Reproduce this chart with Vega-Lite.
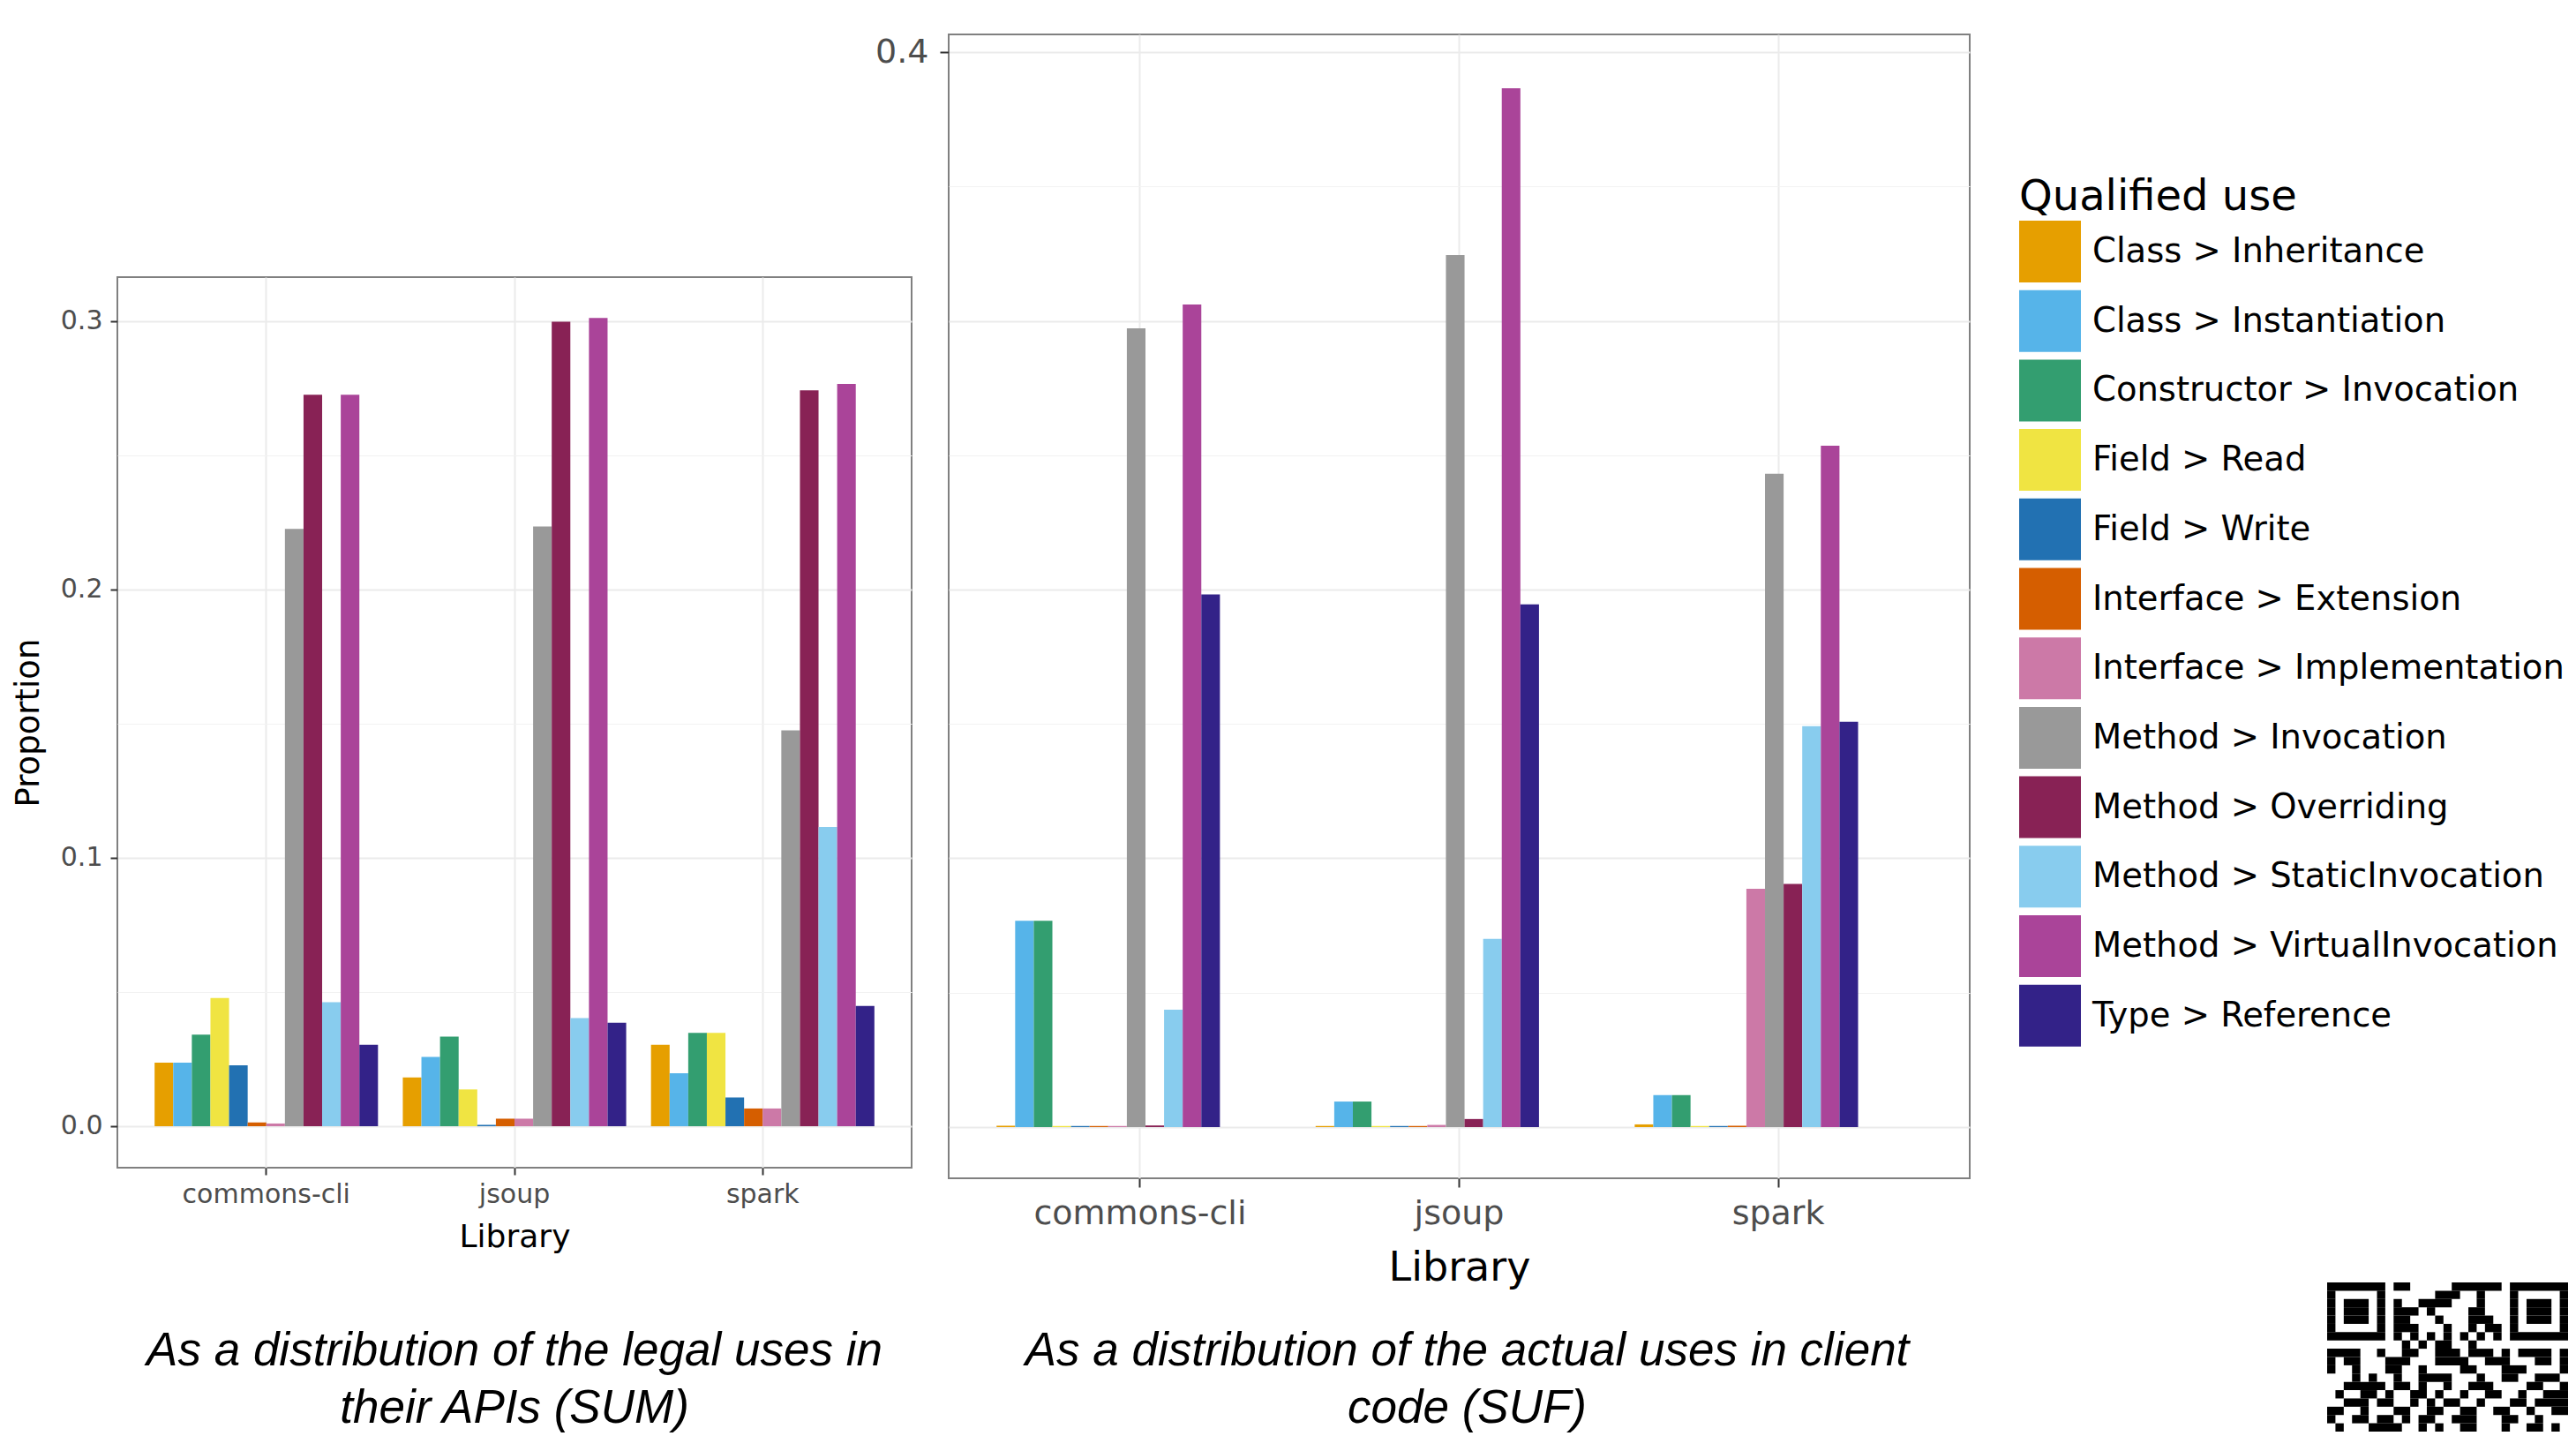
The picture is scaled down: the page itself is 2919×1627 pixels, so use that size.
{
  "$schema": "https://vega.github.io/schema/vega-lite/v6.json",
  "padding": {"left": 12, "top": 38, "right": 0, "bottom": 0},
  "autosize": {"type": "pad"},
  "background": "white",
  "config": {
    "view": {"stroke": "#808080", "strokeWidth": 2},
    "font": "DejaVu Sans",
    "axis": {"domain": false, "labelFont": "DejaVu Sans", "titleFont": "DejaVu Sans", "titleFontWeight": "normal", "titleColor": "#000000", "labelColor": "#4D4D4D", "tickColor": "#333333", "tickWidth": 2, "labelOverlap": false, "labelLimit": 1000},
    "legend": {
      "titleFont": "DejaVu Sans", "titleFontSize": 48, "titleFontWeight": "normal", "titleColor": "#000000", "titlePadding": 2, "titleLimit": 1000,
      "labelFont": "DejaVu Sans", "labelFontSize": 38.5, "labelColor": "#000000", "labelLimit": 1000, "labelOffset": 13,
      "symbolType": "square", "symbolSize": 4900, "symbolStrokeWidth": 0, "symbolOpacity": 1,
      "rowPadding": 8.7, "padding": 0
    }
  },
  "datasets": {
    "uses": [
      {"panel": "SUM", "lib": "commons-cli", "use": "Class > Inheritance", "p": 0.0237},
      {"panel": "SUM", "lib": "commons-cli", "use": "Class > Instantiation", "p": 0.0237},
      {"panel": "SUM", "lib": "commons-cli", "use": "Constructor > Invocation", "p": 0.0341},
      {"panel": "SUM", "lib": "commons-cli", "use": "Field > Read", "p": 0.0478},
      {"panel": "SUM", "lib": "commons-cli", "use": "Field > Write", "p": 0.0227},
      {"panel": "SUM", "lib": "commons-cli", "use": "Interface > Extension", "p": 0.0014},
      {"panel": "SUM", "lib": "commons-cli", "use": "Interface > Implementation", "p": 0.0010},
      {"panel": "SUM", "lib": "commons-cli", "use": "Method > Invocation", "p": 0.2226},
      {"panel": "SUM", "lib": "commons-cli", "use": "Method > Overriding", "p": 0.2726},
      {"panel": "SUM", "lib": "commons-cli", "use": "Method > StaticInvocation", "p": 0.0462},
      {"panel": "SUM", "lib": "commons-cli", "use": "Method > VirtualInvocation", "p": 0.2726},
      {"panel": "SUM", "lib": "commons-cli", "use": "Type > Reference", "p": 0.0303},
      {"panel": "SUM", "lib": "jsoup", "use": "Class > Inheritance", "p": 0.0182},
      {"panel": "SUM", "lib": "jsoup", "use": "Class > Instantiation", "p": 0.0258},
      {"panel": "SUM", "lib": "jsoup", "use": "Constructor > Invocation", "p": 0.0334},
      {"panel": "SUM", "lib": "jsoup", "use": "Field > Read", "p": 0.0137},
      {"panel": "SUM", "lib": "jsoup", "use": "Field > Write", "p": 0.0005},
      {"panel": "SUM", "lib": "jsoup", "use": "Interface > Extension", "p": 0.0028},
      {"panel": "SUM", "lib": "jsoup", "use": "Interface > Implementation", "p": 0.0028},
      {"panel": "SUM", "lib": "jsoup", "use": "Method > Invocation", "p": 0.2235},
      {"panel": "SUM", "lib": "jsoup", "use": "Method > Overriding", "p": 0.2998},
      {"panel": "SUM", "lib": "jsoup", "use": "Method > StaticInvocation", "p": 0.0403},
      {"panel": "SUM", "lib": "jsoup", "use": "Method > VirtualInvocation", "p": 0.3012},
      {"panel": "SUM", "lib": "jsoup", "use": "Type > Reference", "p": 0.0386},
      {"panel": "SUM", "lib": "spark", "use": "Class > Inheritance", "p": 0.0303},
      {"panel": "SUM", "lib": "spark", "use": "Class > Instantiation", "p": 0.0197},
      {"panel": "SUM", "lib": "spark", "use": "Constructor > Invocation", "p": 0.0348},
      {"panel": "SUM", "lib": "spark", "use": "Field > Read", "p": 0.0348},
      {"panel": "SUM", "lib": "spark", "use": "Field > Write", "p": 0.0107},
      {"panel": "SUM", "lib": "spark", "use": "Interface > Extension", "p": 0.0066},
      {"panel": "SUM", "lib": "spark", "use": "Interface > Implementation", "p": 0.0066},
      {"panel": "SUM", "lib": "spark", "use": "Method > Invocation", "p": 0.1475},
      {"panel": "SUM", "lib": "spark", "use": "Method > Overriding", "p": 0.2742},
      {"panel": "SUM", "lib": "spark", "use": "Method > StaticInvocation", "p": 0.1115},
      {"panel": "SUM", "lib": "spark", "use": "Method > VirtualInvocation", "p": 0.2766},
      {"panel": "SUM", "lib": "spark", "use": "Type > Reference", "p": 0.0448},
      {"panel": "SUF", "lib": "commons-cli", "use": "Class > Inheritance", "p": 0.0005},
      {"panel": "SUF", "lib": "commons-cli", "use": "Class > Instantiation", "p": 0.0768},
      {"panel": "SUF", "lib": "commons-cli", "use": "Constructor > Invocation", "p": 0.0768},
      {"panel": "SUF", "lib": "commons-cli", "use": "Field > Read", "p": 0.0004},
      {"panel": "SUF", "lib": "commons-cli", "use": "Field > Write", "p": 0.0004},
      {"panel": "SUF", "lib": "commons-cli", "use": "Interface > Extension", "p": 0.0004},
      {"panel": "SUF", "lib": "commons-cli", "use": "Interface > Implementation", "p": 0.0004},
      {"panel": "SUF", "lib": "commons-cli", "use": "Method > Invocation", "p": 0.2972},
      {"panel": "SUF", "lib": "commons-cli", "use": "Method > Overriding", "p": 0.0006},
      {"panel": "SUF", "lib": "commons-cli", "use": "Method > StaticInvocation", "p": 0.0437},
      {"panel": "SUF", "lib": "commons-cli", "use": "Method > VirtualInvocation", "p": 0.3061},
      {"panel": "SUF", "lib": "commons-cli", "use": "Type > Reference", "p": 0.1982},
      {"panel": "SUF", "lib": "jsoup", "use": "Class > Inheritance", "p": 0.0004},
      {"panel": "SUF", "lib": "jsoup", "use": "Class > Instantiation", "p": 0.0095},
      {"panel": "SUF", "lib": "jsoup", "use": "Constructor > Invocation", "p": 0.0095},
      {"panel": "SUF", "lib": "jsoup", "use": "Field > Read", "p": 0.0004},
      {"panel": "SUF", "lib": "jsoup", "use": "Field > Write", "p": 0.0004},
      {"panel": "SUF", "lib": "jsoup", "use": "Interface > Extension", "p": 0.0004},
      {"panel": "SUF", "lib": "jsoup", "use": "Interface > Implementation", "p": 0.0008},
      {"panel": "SUF", "lib": "jsoup", "use": "Method > Invocation", "p": 0.3245},
      {"panel": "SUF", "lib": "jsoup", "use": "Method > Overriding", "p": 0.0030},
      {"panel": "SUF", "lib": "jsoup", "use": "Method > StaticInvocation", "p": 0.0700},
      {"panel": "SUF", "lib": "jsoup", "use": "Method > VirtualInvocation", "p": 0.3865},
      {"panel": "SUF", "lib": "jsoup", "use": "Type > Reference", "p": 0.1945},
      {"panel": "SUF", "lib": "spark", "use": "Class > Inheritance", "p": 0.0010},
      {"panel": "SUF", "lib": "spark", "use": "Class > Instantiation", "p": 0.0119},
      {"panel": "SUF", "lib": "spark", "use": "Constructor > Invocation", "p": 0.0119},
      {"panel": "SUF", "lib": "spark", "use": "Field > Read", "p": 0.0004},
      {"panel": "SUF", "lib": "spark", "use": "Field > Write", "p": 0.0004},
      {"panel": "SUF", "lib": "spark", "use": "Interface > Extension", "p": 0.0005},
      {"panel": "SUF", "lib": "spark", "use": "Interface > Implementation", "p": 0.0887},
      {"panel": "SUF", "lib": "spark", "use": "Method > Invocation", "p": 0.2431},
      {"panel": "SUF", "lib": "spark", "use": "Method > Overriding", "p": 0.0905},
      {"panel": "SUF", "lib": "spark", "use": "Method > StaticInvocation", "p": 0.1492},
      {"panel": "SUF", "lib": "spark", "use": "Method > VirtualInvocation", "p": 0.2535},
      {"panel": "SUF", "lib": "spark", "use": "Type > Reference", "p": 0.1508}
    ],
    "qr": [
      {"r": 0, "c0": 0, "e": 7}, {"r": 0, "c0": 8, "e": 10}, {"r": 0, "c0": 15, "e": 21}, {"r": 0, "c0": 22, "e": 29},
      {"r": 1, "c0": 0, "e": 1}, {"r": 1, "c0": 6, "e": 7}, {"r": 1, "c0": 13, "e": 16}, {"r": 1, "c0": 18, "e": 19}, {"r": 1, "c0": 22, "e": 23}, {"r": 1, "c0": 28, "e": 29},
      {"r": 2, "c0": 0, "e": 1}, {"r": 2, "c0": 2, "e": 5}, {"r": 2, "c0": 6, "e": 7}, {"r": 2, "c0": 8, "e": 9}, {"r": 2, "c0": 11, "e": 15}, {"r": 2, "c0": 18, "e": 19}, {"r": 2, "c0": 22, "e": 23}, {"r": 2, "c0": 24, "e": 27}, {"r": 2, "c0": 28, "e": 29},
      {"r": 3, "c0": 0, "e": 1}, {"r": 3, "c0": 2, "e": 5}, {"r": 3, "c0": 6, "e": 7}, {"r": 3, "c0": 8, "e": 11}, {"r": 3, "c0": 12, "e": 13}, {"r": 3, "c0": 17, "e": 19}, {"r": 3, "c0": 22, "e": 23}, {"r": 3, "c0": 24, "e": 27}, {"r": 3, "c0": 28, "e": 29},
      {"r": 4, "c0": 0, "e": 1}, {"r": 4, "c0": 2, "e": 5}, {"r": 4, "c0": 6, "e": 7}, {"r": 4, "c0": 8, "e": 10}, {"r": 4, "c0": 13, "e": 14}, {"r": 4, "c0": 17, "e": 20}, {"r": 4, "c0": 22, "e": 23}, {"r": 4, "c0": 24, "e": 27}, {"r": 4, "c0": 28, "e": 29},
      {"r": 5, "c0": 0, "e": 1}, {"r": 5, "c0": 6, "e": 7}, {"r": 5, "c0": 8, "e": 11}, {"r": 5, "c0": 14, "e": 15}, {"r": 5, "c0": 17, "e": 18}, {"r": 5, "c0": 19, "e": 21}, {"r": 5, "c0": 22, "e": 23}, {"r": 5, "c0": 28, "e": 29},
      {"r": 6, "c0": 0, "e": 7}, {"r": 6, "c0": 8, "e": 9}, {"r": 6, "c0": 10, "e": 11}, {"r": 6, "c0": 12, "e": 13}, {"r": 6, "c0": 14, "e": 15}, {"r": 6, "c0": 16, "e": 17}, {"r": 6, "c0": 18, "e": 19}, {"r": 6, "c0": 20, "e": 21}, {"r": 6, "c0": 22, "e": 29},
      {"r": 7, "c0": 9, "e": 10}, {"r": 7, "c0": 11, "e": 12}, {"r": 7, "c0": 13, "e": 15}, {"r": 7, "c0": 17, "e": 18},
      {"r": 8, "c0": 0, "e": 4}, {"r": 8, "c0": 6, "e": 7}, {"r": 8, "c0": 9, "e": 11}, {"r": 8, "c0": 13, "e": 16}, {"r": 8, "c0": 17, "e": 20}, {"r": 8, "c0": 21, "e": 22}, {"r": 8, "c0": 23, "e": 27}, {"r": 8, "c0": 28, "e": 29},
      {"r": 9, "c0": 0, "e": 1}, {"r": 9, "c0": 2, "e": 4}, {"r": 9, "c0": 7, "e": 10}, {"r": 9, "c0": 13, "e": 17}, {"r": 9, "c0": 19, "e": 22}, {"r": 9, "c0": 25, "e": 27}, {"r": 9, "c0": 28, "e": 29},
      {"r": 10, "c0": 0, "e": 1}, {"r": 10, "c0": 3, "e": 4}, {"r": 10, "c0": 7, "e": 9}, {"r": 10, "c0": 11, "e": 12}, {"r": 10, "c0": 16, "e": 18}, {"r": 10, "c0": 21, "e": 24}, {"r": 10, "c0": 28, "e": 29},
      {"r": 11, "c0": 3, "e": 4}, {"r": 11, "c0": 5, "e": 6}, {"r": 11, "c0": 8, "e": 9}, {"r": 11, "c0": 11, "e": 15}, {"r": 11, "c0": 18, "e": 19}, {"r": 11, "c0": 21, "e": 23}, {"r": 11, "c0": 25, "e": 28},
      {"r": 12, "c0": 2, "e": 7}, {"r": 12, "c0": 8, "e": 10}, {"r": 12, "c0": 11, "e": 12}, {"r": 12, "c0": 14, "e": 15}, {"r": 12, "c0": 17, "e": 20}, {"r": 12, "c0": 24, "e": 26}, {"r": 12, "c0": 28, "e": 29},
      {"r": 13, "c0": 1, "e": 2}, {"r": 13, "c0": 4, "e": 6}, {"r": 13, "c0": 7, "e": 8}, {"r": 13, "c0": 10, "e": 12}, {"r": 13, "c0": 13, "e": 14}, {"r": 13, "c0": 16, "e": 17}, {"r": 13, "c0": 19, "e": 21}, {"r": 13, "c0": 23, "e": 24}, {"r": 13, "c0": 26, "e": 29},
      {"r": 14, "c0": 2, "e": 5}, {"r": 14, "c0": 6, "e": 8}, {"r": 14, "c0": 10, "e": 11}, {"r": 14, "c0": 12, "e": 13}, {"r": 14, "c0": 14, "e": 16}, {"r": 14, "c0": 18, "e": 19}, {"r": 14, "c0": 22, "e": 24}, {"r": 14, "c0": 25, "e": 29},
      {"r": 15, "c0": 0, "e": 2}, {"r": 15, "c0": 4, "e": 5}, {"r": 15, "c0": 8, "e": 10}, {"r": 15, "c0": 12, "e": 14}, {"r": 15, "c0": 16, "e": 18}, {"r": 15, "c0": 20, "e": 22}, {"r": 15, "c0": 24, "e": 25}, {"r": 15, "c0": 27, "e": 29},
      {"r": 16, "c0": 0, "e": 1}, {"r": 16, "c0": 3, "e": 5}, {"r": 16, "c0": 6, "e": 8}, {"r": 16, "c0": 9, "e": 10}, {"r": 16, "c0": 11, "e": 13}, {"r": 16, "c0": 15, "e": 18}, {"r": 16, "c0": 21, "e": 23}, {"r": 16, "c0": 25, "e": 26},
      {"r": 17, "c0": 1, "e": 2}, {"r": 17, "c0": 5, "e": 9}, {"r": 17, "c0": 11, "e": 12}, {"r": 17, "c0": 13, "e": 14}, {"r": 17, "c0": 16, "e": 18}, {"r": 17, "c0": 21, "e": 22}, {"r": 17, "c0": 24, "e": 26}, {"r": 17, "c0": 27, "e": 28}
    ]
  },
  "spacing": -44,
  "resolve": {"scale": {"x": "independent", "y": "independent", "color": "shared"}},
  "hconcat": [
    {
      "bounds": "flush",
      "spacing": 0,
      "resolve": {"scale": {"x": "independent", "y": "independent", "color": "shared"}},
      "vconcat": [
        {
          "width": 900, "height": 275,
          "view": {"stroke": null},
          "data": {"values": [{"k": 0}]},
          "mark": {"type": "point", "opacity": 0},
          "encoding": {}
        },
        {
          "width": 900, "height": 1009,
          "data": {"name": "uses"},
          "transform": [{"filter": "datum.panel === 'SUM'"}],
          "title": {"text": ["As a distribution of the legal uses in", "their APIs (SUM)"], "orient": "bottom", "anchor": "middle", "frame": "group", "font": "Liberation Sans", "fontSize": 53, "fontStyle": "italic", "fontWeight": "normal", "color": "#000000", "offset": 86, "lineHeight": 65},
          "mark": {"type": "bar"},
          "encoding": {
            "x": {"field": "lib", "type": "nominal", "title": "Library",
              "scale": {"paddingInner": 0.1, "paddingOuter": 0.15},
              "axis": {"labelAngle": 0, "labelFontSize": 30, "labelPadding": 7, "tickSize": 8, "bandPosition": 0.5, "grid": true, "gridColor": "#EBEBEB", "gridWidth": 2, "titleFontSize": 36, "titlePadding": 16}},
            "xOffset": {"field": "use", "type": "nominal", "scale": {"domain": ["Class > Inheritance", "Class > Instantiation", "Constructor > Invocation", "Field > Read", "Field > Write", "Interface > Extension", "Interface > Implementation", "Method > Invocation", "Method > Overriding", "Method > StaticInvocation", "Method > VirtualInvocation", "Type > Reference"]}},
            "y": {"field": "p", "type": "quantitative", "title": "Proportion",
              "scale": {"domain": [-0.01546, 0.3164], "nice": false, "zero": false},
              "axis": {"values": [0, 0.05, 0.1, 0.15, 0.2, 0.25, 0.3],
                "labelExpr": "round(datum.value*100) % 10 === 0 ? format(datum.value, '.1f') : ''",
                "labelFontSize": 30, "labelPadding": 9, "tickSize": 8,
                "tickOpacity": {"condition": {"test": "round(datum.value*100) % 10 !== 0", "value": 0}, "value": 1},
                "grid": true,
                "gridWidth": {"condition": {"test": "round(datum.value*100) % 10 !== 0", "value": 1}, "value": 2},
                "gridColor": {"condition": {"test": "round(datum.value*100) % 10 !== 0", "value": "#F2F2F2"}, "value": "#EBEBEB"},
                "titleFontSize": 37, "titlePadding": 17}},
            "color": {"field": "use", "type": "nominal",
              "scale": {"domain": ["Class > Inheritance", "Class > Instantiation", "Constructor > Invocation", "Field > Read", "Field > Write", "Interface > Extension", "Interface > Implementation", "Method > Invocation", "Method > Overriding", "Method > StaticInvocation", "Method > VirtualInvocation", "Type > Reference"],
                "range": ["#E69F00", "#56B4E9", "#339E70", "#F0E442", "#2271B2", "#D55E00", "#CC79A7", "#999999", "#882255", "#88CCEE", "#AA4499", "#332288"]},
              "legend": {"title": "Qualified use", "orient": "none", "legendX": 2155, "legendY": 161}}
          }
        }
      ]
    },
    {
      "bounds": "flush",
      "spacing": 405,
      "resolve": {"scale": {"x": "independent", "y": "independent", "color": "shared"}},
      "hconcat": [
        {
          "width": 1157, "height": 1296,
          "data": {"name": "uses"},
          "transform": [{"filter": "datum.panel === 'SUF'"}],
          "title": {"text": ["As a distribution of the actual uses in client", "code (SUF)"], "orient": "bottom", "anchor": "middle", "frame": "group", "font": "Liberation Sans", "fontSize": 53, "fontStyle": "italic", "fontWeight": "normal", "color": "#000000", "offset": 46, "lineHeight": 65, "dx": 9},
          "mark": {"type": "bar"},
          "encoding": {
            "x": {"field": "lib", "type": "nominal", "title": "Library",
              "scale": {"paddingInner": 0.1, "paddingOuter": 0.15},
              "axis": {"labelAngle": 0, "labelFontSize": 38, "labelPadding": 11, "tickSize": 10, "bandPosition": 0.5, "grid": true, "gridColor": "#EBEBEB", "gridWidth": 2, "titleFontSize": 46, "titlePadding": 20}},
            "xOffset": {"field": "use", "type": "nominal", "scale": {"domain": ["Class > Inheritance", "Class > Instantiation", "Constructor > Invocation", "Field > Read", "Field > Write", "Interface > Extension", "Interface > Implementation", "Method > Invocation", "Method > Overriding", "Method > StaticInvocation", "Method > VirtualInvocation", "Type > Reference"]}},
            "y": {"field": "p", "type": "quantitative", "title": null,
              "scale": {"domain": [-0.01905, 0.40657], "nice": false, "zero": false},
              "axis": {"values": [0, 0.05, 0.1, 0.15, 0.2, 0.25, 0.3, 0.35, 0.4],
                "labelExpr": "datum.value > 0.39 ? '0.4' : ''",
                "labelFontSize": 38, "labelPadding": 13, "tickSize": 10,
                "tickOpacity": {"condition": {"test": "datum.value < 0.39", "value": 0}, "value": 1},
                "grid": true,
                "gridWidth": {"condition": {"test": "round(datum.value*100) % 10 !== 0", "value": 1}, "value": 2},
                "gridColor": {"condition": {"test": "round(datum.value*100) % 10 !== 0", "value": "#F2F2F2"}, "value": "#EBEBEB"}}},
            "color": {"field": "use", "type": "nominal",
              "scale": {"domain": ["Class > Inheritance", "Class > Instantiation", "Constructor > Invocation", "Field > Read", "Field > Write", "Interface > Extension", "Interface > Implementation", "Method > Invocation", "Method > Overriding", "Method > StaticInvocation", "Method > VirtualInvocation", "Type > Reference"],
                "range": ["#E69F00", "#56B4E9", "#339E70", "#F0E442", "#2271B2", "#D55E00", "#CC79A7", "#999999", "#882255", "#88CCEE", "#AA4499", "#332288"]},
              "legend": {"title": "Qualified use", "orient": "none", "legendX": 2155, "legendY": 161}}
          }
        },
        {
          "bounds": "flush",
          "spacing": 0,
          "vconcat": [
            {
              "width": 273, "height": 1414,
              "view": {"stroke": null},
              "data": {"values": [{"k": 0}]},
              "mark": {"type": "point", "opacity": 0},
              "encoding": {}
            },
            {
              "width": 273, "height": 169,
              "view": {"stroke": null},
              "data": {"name": "qr"},
              "mark": {"type": "rect", "color": "#000000", "clip": true, "height": 9.405},
              "encoding": {
                "x": {"field": "c0", "type": "quantitative", "scale": {"domain": [0, 29], "nice": false, "zero": false}, "axis": null},
                "x2": {"field": "e"},
                "y": {"field": "r", "type": "quantitative", "scale": {"domain": [-0.5, 17.5], "nice": false, "zero": false, "reverse": true}, "axis": null}
              }
            }
          ]
        }
      ]
    }
  ]
}
